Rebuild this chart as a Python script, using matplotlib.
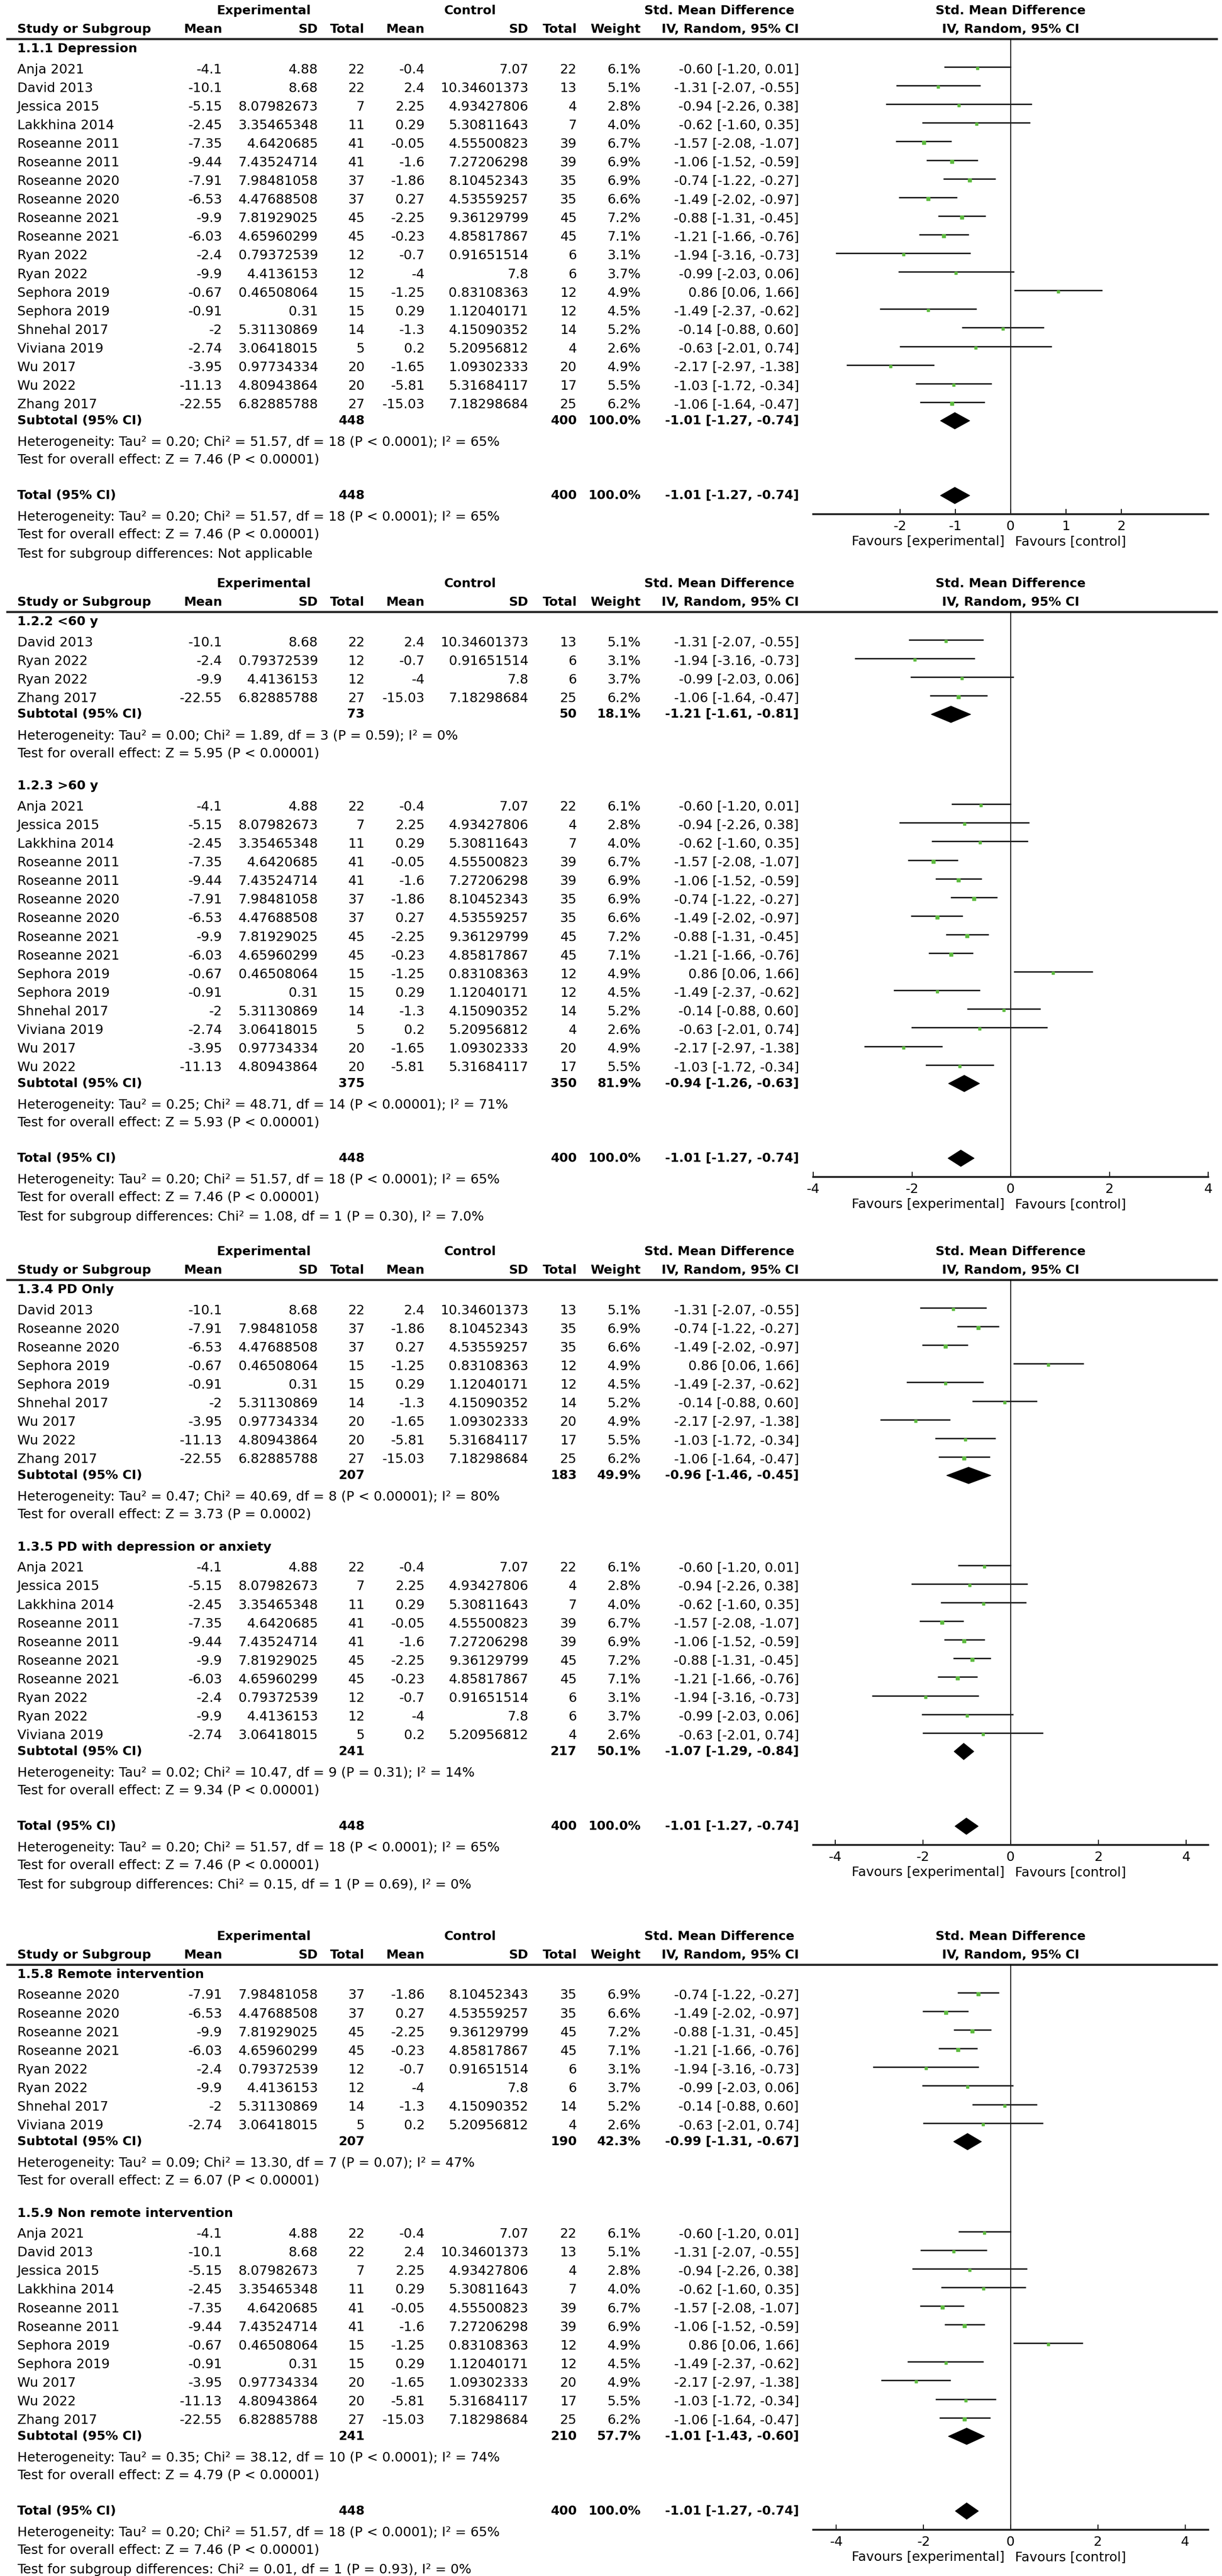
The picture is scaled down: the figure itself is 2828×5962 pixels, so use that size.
import matplotlib
matplotlib.use("Agg")
import matplotlib.pyplot as plt
from matplotlib.patches import Polygon

plt.rcParams['font.family'] = ['DejaVu Sans']
plt.rcParams['axes.unicode_minus'] = False

W, H = 2828, 5962

# per-study data (same 19 studies reused in every panel)
studies = ["Anja 2021", "David 2013", "Jessica 2015", "Lakkhina 2014", "Roseanne 2011",
           "Roseanne 2011", "Roseanne 2020", "Roseanne 2020", "Roseanne 2021", "Roseanne 2021",
           "Ryan 2022", "Ryan 2022", "Sephora 2019", "Sephora 2019", "Shnehal 2017",
           "Viviana 2019", "Wu 2017", "Wu 2022", "Zhang 2017"]
exp_mean = [-4.1, -10.1, -5.15, -2.45, -7.35, -9.44, -7.91, -6.53, -9.9, -6.03,
            -2.4, -9.9, -0.67, -0.91, -2, -2.74, -3.95, -11.13, -22.55]
exp_sd = [4.88, 8.68, 8.07982673, 3.35465348, 4.6420685, 7.43524714, 7.98481058, 4.47688508,
          7.81929025, 4.65960299, 0.79372539, 4.4136153, 0.46508064, 0.31, 5.31130869,
          3.06418015, 0.97734334, 4.80943864, 6.82885788]
exp_n = [22, 22, 7, 11, 41, 41, 37, 37, 45, 45, 12, 12, 15, 15, 14, 5, 20, 20, 27]
ctl_mean = [-0.4, 2.4, 2.25, 0.29, -0.05, -1.6, -1.86, 0.27, -2.25, -0.23,
            -0.7, -4, -1.25, 0.29, -1.3, 0.2, -1.65, -5.81, -15.03]
ctl_sd = [7.07, 10.34601373, 4.93427806, 5.30811643, 4.55500823, 7.27206298, 8.10452343,
          4.53559257, 9.36129799, 4.85817867, 0.91651514, 7.8, 0.83108363, 1.12040171,
          4.15090352, 5.20956812, 1.09302333, 5.31684117, 7.18298684]
ctl_n = [22, 13, 4, 7, 39, 39, 35, 35, 45, 45, 6, 6, 12, 12, 14, 4, 20, 17, 25]
weight = [6.1, 5.1, 2.8, 4.0, 6.7, 6.9, 6.9, 6.6, 7.2, 7.1, 3.1, 3.7, 4.9, 4.5, 5.2, 2.6, 4.9, 5.5, 6.2]
smd = [-0.60, -1.31, -0.94, -0.62, -1.57, -1.06, -0.74, -1.49, -0.88, -1.21,
       -1.94, -0.99, 0.86, -1.49, -0.14, -0.63, -2.17, -1.03, -1.06]
ci_lo = [-1.20, -2.07, -2.26, -1.60, -2.08, -1.52, -1.22, -2.02, -1.31, -1.66,
         -3.16, -2.03, 0.06, -2.37, -0.88, -2.01, -2.97, -1.72, -1.64]
ci_hi = [0.01, -0.55, 0.38, 0.35, -1.07, -0.59, -0.27, -0.97, -0.45, -0.76,
         -0.73, 0.06, 1.66, -0.62, 0.60, 0.74, -1.38, -0.34, -0.47]

# subgroups per panel
group_labels = [["1.1.1 Depression"],
                ["1.2.2 <60 y", "1.2.3 >60 y"],
                ["1.3.4 PD Only", "1.3.5 PD with depression or anxiety"],
                ["1.5.8 Remote intervention", "1.5.9 Non remote intervention"]]
group_members = [[list(range(19))],
                 [[1, 10, 11, 18], [0, 2, 3, 4, 5, 6, 7, 8, 9, 12, 13, 14, 15, 16, 17]],
                 [[1, 6, 7, 12, 13, 14, 16, 17, 18], [0, 2, 3, 4, 5, 8, 9, 10, 11, 15]],
                 [[6, 7, 8, 9, 10, 11, 14, 15], [0, 1, 2, 3, 4, 5, 12, 13, 16, 17, 18]]]
sub_n_exp = [[448], [73, 375], [207, 241], [207, 241]]
sub_n_ctl = [[400], [50, 350], [183, 217], [190, 210]]
sub_weight = [[100.0], [18.1, 81.9], [49.9, 50.1], [42.3, 57.7]]
sub_est = [[-1.01], [-1.21, -0.94], [-0.96, -1.07], [-0.99, -1.01]]
sub_lo = [[-1.27], [-1.61, -1.26], [-1.46, -1.29], [-1.31, -1.43]]
sub_hi = [[-0.74], [-0.81, -0.63], [-0.45, -0.84], [-0.67, -0.60]]
sub_het = [["Tau² = 0.20; Chi² = 51.57, df = 18 (P < 0.0001); I² = 65%"],
           ["Tau² = 0.00; Chi² = 1.89, df = 3 (P = 0.59); I² = 0%",
            "Tau² = 0.25; Chi² = 48.71, df = 14 (P < 0.00001); I² = 71%"],
           ["Tau² = 0.47; Chi² = 40.69, df = 8 (P < 0.00001); I² = 80%",
            "Tau² = 0.02; Chi² = 10.47, df = 9 (P = 0.31); I² = 14%"],
           ["Tau² = 0.09; Chi² = 13.30, df = 7 (P = 0.07); I² = 47%",
            "Tau² = 0.35; Chi² = 38.12, df = 10 (P < 0.0001); I² = 74%"]]
sub_z = [["Z = 7.46 (P < 0.00001)"],
         ["Z = 5.95 (P < 0.00001)", "Z = 5.93 (P < 0.00001)"],
         ["Z = 3.73 (P = 0.0002)", "Z = 9.34 (P < 0.00001)"],
         ["Z = 6.07 (P < 0.00001)", "Z = 4.79 (P < 0.00001)"]]

total_n_exp, total_n_ctl = 448, 400
total_est, total_lo, total_hi = -1.01, -1.27, -0.74
total_het = "Tau² = 0.20; Chi² = 51.57, df = 18 (P < 0.0001); I² = 65%"
total_z = "Z = 7.46 (P < 0.00001)"
subgroup_test = ["Not applicable",
                 "Chi² = 1.08, df = 1 (P = 0.30), I² = 7.0%",
                 "Chi² = 0.15, df = 1 (P = 0.69), I² = 0%",
                 "Chi² = 0.01, df = 1 (P = 0.93), I² = 0%"]
panel_xlim = [3.57, 4.0, 4.5, 4.53]
panel_ticks = [[-2, -1, 0, 1, 2], [-4, -2, 0, 2, 4], [-4, -2, 0, 2, 4], [-4, -2, 0, 2, 4]]

# layout (pixels)
panel_top = [25, 1351, 2897, 4482]
STEP = 43.1
X_STUDY = 40
X_COLS = [514, 736, 844, 983, 1223, 1335, 1483, 1849]
FX0, FX1 = 1882, 2796
FS = 22
FSB = 21
GREEN = '#5DBB3F'


def fmt(v):
    return '%.12g' % v


def ci_text(e, lo, hi):
    return f"{e:.2f} [{lo:.2f}, {hi:.2f}]"


fig = plt.figure(figsize=(W / 100, H / 100), dpi=100)
ax = fig.add_axes([0, 0, 1, 1])
ax.set_xlim(0, W)
ax.set_ylim(H, 0)
ax.axis('off')


def txt(x, y, s, ha='left', bold=False):
    ax.text(x, y, s, ha=ha, va='center', fontsize=FSB if bold else FS,
            fontweight='bold' if bold else 'normal', color='black')


def draw_panel(p):
    top = panel_top[p]
    fcx = (FX0 + FX1) / 2
    # header
    txt(610, top, "Experimental", 'center', True)
    txt(1088, top, "Control", 'center', True)
    txt(1665, top, "Std. Mean Difference", 'center', True)
    txt(fcx, top, "Std. Mean Difference", 'center', True)
    y = top + 43
    txt(X_STUDY, y, "Study or Subgroup", 'left', True)
    for x, s in zip(X_COLS, ["Mean", "SD", "Total", "Mean", "SD", "Total", "Weight",
                             "IV, Random, 95% CI"]):
        txt(x, y, s, 'right', True)
    txt(fcx, y, "IV, Random, 95% CI", 'center', True)
    line_y = top + 65
    ax.plot([14, 2818], [line_y, line_y], color='#2a2a2a', lw=3.6, solid_capstyle='butt')

    rows = []   # (y, study index)
    subs = []   # (y, group index)
    y = top + 88
    for g, label in enumerate(group_labels[p]):
        if g > 0:
            y = test_y + 75
        txt(X_STUDY, y, label, 'left', True)
        y0 = y + 48
        for k, i in enumerate(group_members[p][g]):
            ry = y0 + k * STEP
            rows.append((ry, i))
            vals = [fmt(exp_mean[i]), fmt(exp_sd[i]), str(exp_n[i]), fmt(ctl_mean[i]),
                    fmt(ctl_sd[i]), str(ctl_n[i]), f"{weight[i]:.1f}%",
                    ci_text(smd[i], ci_lo[i], ci_hi[i])]
            txt(X_STUDY, ry, studies[i])
            for x, s in zip(X_COLS, vals):
                txt(x, ry, s, 'right')
        sub_y = ry + 37
        subs.append((sub_y, g))
        txt(X_STUDY, sub_y, "Subtotal (95% CI)", 'left', True)
        txt(X_COLS[2], sub_y, str(sub_n_exp[p][g]), 'right', True)
        txt(X_COLS[5], sub_y, str(sub_n_ctl[p][g]), 'right', True)
        txt(X_COLS[6], sub_y, f"{sub_weight[p][g]:.1f}%", 'right', True)
        txt(X_COLS[7], sub_y, ci_text(sub_est[p][g], sub_lo[p][g], sub_hi[p][g]), 'right', True)
        het_y = sub_y + 50
        txt(X_STUDY, het_y, "Heterogeneity: " + sub_het[p][g])
        test_y = het_y + 41
        txt(X_STUDY, test_y, "Test for overall effect: " + sub_z[p][g])

    tot_y = test_y + 82
    txt(X_STUDY, tot_y, "Total (95% CI)", 'left', True)
    txt(X_COLS[2], tot_y, str(total_n_exp), 'right', True)
    txt(X_COLS[5], tot_y, str(total_n_ctl), 'right', True)
    txt(X_COLS[6], tot_y, "100.0%", 'right', True)
    txt(X_COLS[7], tot_y, ci_text(total_est, total_lo, total_hi), 'right', True)
    txt(X_STUDY, tot_y + 50, "Heterogeneity: " + total_het)
    txt(X_STUDY, tot_y + 91, "Test for overall effect: " + total_z)
    txt(X_STUDY, tot_y + 136, "Test for subgroup differences: " + subgroup_test[p])

    axis_y = tot_y + 43
    fax = fig.add_axes([FX0 / W, 1 - axis_y / H, (FX1 - FX0) / W, (axis_y - line_y) / H])
    fax.patch.set_alpha(0)
    xl = panel_xlim[p]
    fax.set_xlim(-xl, xl)
    fax.set_ylim(axis_y, line_y)
    for s in ['top', 'left', 'right']:
        fax.spines[s].set_visible(False)
    fax.spines['bottom'].set_linewidth(3.2)
    fax.spines['bottom'].set_color('#222222')
    fax.set_yticks([])
    fax.set_xticks(panel_ticks[p])
    fax.tick_params(axis='x', direction='in', length=9, width=1.6, pad=10,
                    labelsize=FS, colors='black')
    fax.axvline(0, color='black', lw=1.4)
    for ry, i in rows:
        fax.plot([ci_lo[i], ci_hi[i]], [ry - 6, ry - 6], color='#1a1a1a', lw=2.4,
                 solid_capstyle='butt')
        fax.plot(smd[i], ry - 3, marker='s', ms=3.2 + weight[i] * 0.3,
                 color=GREEN, mec=GREEN, ls='none')
    diamonds = [(sy, sub_est[p][g], sub_lo[p][g], sub_hi[p][g]) for sy, g in subs]
    diamonds.append((tot_y, total_est, total_lo, total_hi))
    for dy, e, lo, hi in diamonds:
        fax.add_patch(Polygon([(lo, dy), (e, dy - 19), (hi, dy), (e, dy + 19)],
                              closed=True, color='black'))
    txt(fcx - 14, axis_y + 64, "Favours [experimental]", 'right')
    txt(fcx + 10, axis_y + 64, "Favours [control]", 'left')


for p in range(4):
    draw_panel(p)

fig.savefig("out.png", dpi=100, facecolor='white')
